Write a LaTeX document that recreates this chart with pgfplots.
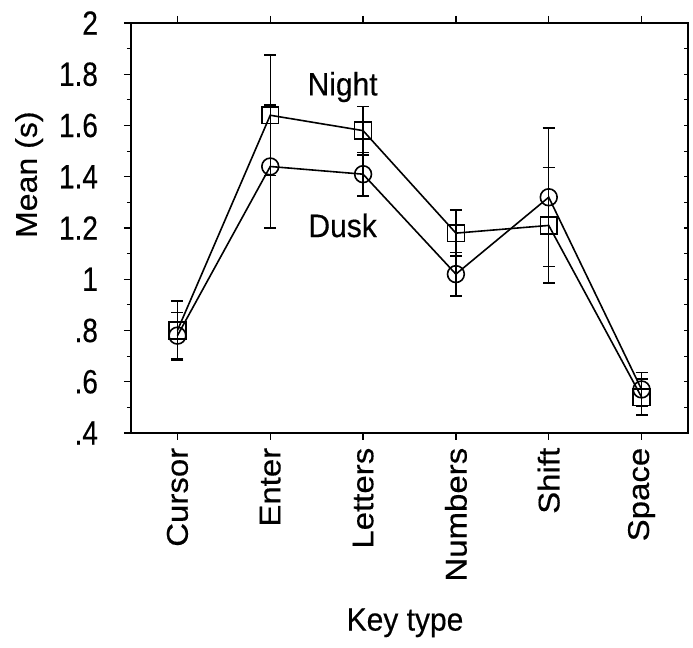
\documentclass[border=0pt]{standalone}
\usepackage{pgfplots}
\pgfplotsset{compat=1.18}
\usepackage{fontspec}
\setmainfont[FakeBold=0.35]{Liberation Sans}

% mean response time per key type, with error bars
\pgfplotstableread{
x y e
0 0.78 0.090
1 1.44 0.240
2 1.41 0.085
3 1.02 0.085
4 1.32 0.270
5 0.57 0.065
}\dusk
\pgfplotstableread{
x y e
0 0.80 0.115
1 1.64 0.235
2 1.58 0.095
3 1.18 0.090
4 1.21 0.225
5 0.54 0.070
}\night

\begin{document}
\begin{tikzpicture}
\begin{axis}[
  at={(0pt,0pt)}, anchor=south west,
  scale only axis, width=278.5pt, height=205pt,
  xmin=-0.5, xmax=5.5, ymin=0.4, ymax=2,
  axis line style={line width=0.75pt},
  xtick={0,...,5},
  xticklabels={Cursor,Enter,Letters,Numbers,Shift,Space},
  xticklabel style={rotate=90, xscale=1.1, anchor=east, font=\fontsize{15}{17}\selectfont},
  ytick={0.4,0.6,...,2.01},
  yticklabels={.4,.6,.8,1,1.2,1.4,1.6,1.8,2},
  yticklabel style={font=\fontsize{14}{16}\selectfont, yscale=1.2, xshift=-9.5pt},
  minor y tick num=1,
  ytick pos=left,
  tick align=outside,
  major tick length=3.5pt, minor tick length=2pt,
  tick style={line width=0.6pt, black},
  /pgf/number format/assume math mode=true,
  xlabel={Key type},
  ylabel={Mean (s)},
  label style={font=\fontsize{15}{18}\selectfont},
  xlabel style={at={(axis description cs:0.492,-0.463)}, anchor=center, yscale=1.07},
  ylabel style={at={(axis description cs:-0.183,0.63)}, anchor=center, xscale=1.07},
  clip=false,
]
\addplot[black, line width=0.8pt, mark=o, mark size=4.2pt,
  mark options={fill=white, solid},
  error bars/.cd, y dir=both, y explicit,
  error mark options={rotate=90, mark size=3pt, line width=0.7pt},
  error bar style={line width=0.65pt}]
  table[x=x, y=y, y error=e] {\dusk};
\addplot[black, line width=0.8pt, mark=square, mark size=4.2pt,
  mark options={fill=white, solid},
  error bars/.cd, y dir=both, y explicit,
  error mark options={rotate=90, mark size=3pt, line width=0.7pt},
  error bar style={line width=0.65pt}]
  table[x=x, y=y, y error=e] {\night};
\node[font=\fontsize{15}{18}\selectfont, yscale=1.08] at (axis cs:1.78,1.75) {Night};
\node[font=\fontsize{15}{18}\selectfont, yscale=1.08] at (axis cs:1.78,1.21) {Dusk};
\end{axis}
% inward ticks along the right edge
\begin{axis}[
  at={(0pt,0pt)}, anchor=south west,
  scale only axis, width=278.5pt, height=205pt,
  xmin=-0.5, xmax=5.5, ymin=0.4, ymax=2,
  axis x line=none, axis y line*=right,
  axis line style={line width=0.75pt},
  ytick={0.4,0.6,...,2.01}, yticklabels={},
  minor y tick num=1, ytick pos=right,
  tick align=inside,
  major tick length=2pt, minor tick length=2pt,
  tick style={line width=0.6pt, black},
]
\addplot[draw=none] coordinates {(0,1)};
\end{axis}
\pgfresetboundingbox
\path (-65.5pt,-107.5pt) rectangle (281pt,216.5pt);
\end{tikzpicture}
\end{document}
